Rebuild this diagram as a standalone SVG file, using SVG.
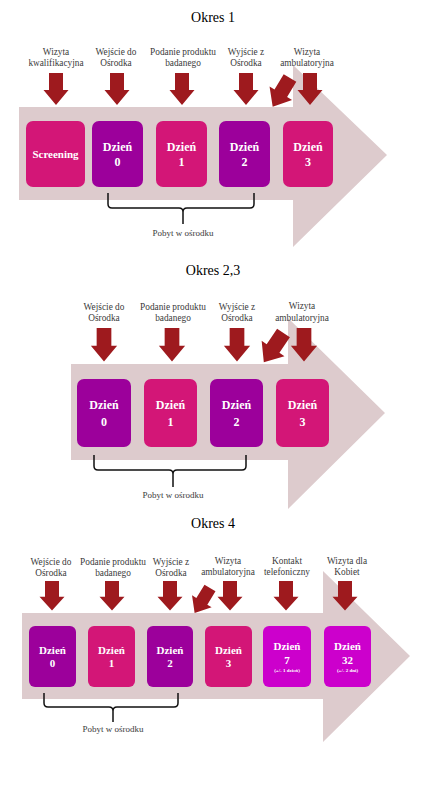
<svg xmlns="http://www.w3.org/2000/svg" width="436" height="800" viewBox="0 0 436 800">
<style>
.title{font-family:"Liberation Serif",serif;font-size:14px;fill:#000;text-anchor:middle}
.lbl{font-family:"Liberation Serif",serif;font-size:9.3px;fill:#3a3a3a;text-anchor:middle}
.stay{font-family:"Liberation Serif",serif;font-size:9px;fill:#3a3a3a;text-anchor:middle}
.bt{font-family:"Liberation Serif",serif;font-weight:bold;font-size:12px;fill:#fff;text-anchor:middle}
.bt2{font-family:"Liberation Serif",serif;font-weight:bold;font-size:11px;fill:#fff;text-anchor:middle}
.sm{font-family:"Liberation Serif",serif;font-weight:bold;font-size:5px;fill:#fff;text-anchor:middle}
.big{fill:#ddcbcd}
.pink{fill:#d31677}
.purple{fill:#9c009b}
.mag{fill:#cc00cc}
.red{fill:#9e1a1e}
.brace{fill:none;stroke:#111;stroke-width:1.5}
</style>
<defs>
<path id="dn" d="M-7,0 H7 V17 H12.5 L0,32 L-12.5,17 H-7 Z"/>
</defs>
<rect width="436" height="800" fill="#fff"/>

<!-- Section 1 -->
<text class="title" x="213" y="22">Okres 1</text>
<polygon id="bigarrow1" class="big" points="19,107 293,107 293,65 387,155 293,247 293,200 19,200"/>
<g id="lbl1">
<text class="lbl" x="56" y="55">Wizyta</text><text class="lbl" x="56" y="66">kwalifikacyjna</text>
<text class="lbl" x="116" y="55">Wejście do</text><text class="lbl" x="116" y="66">Ośrodka</text>
<text class="lbl" x="183" y="55">Podanie produktu</text><text class="lbl" x="183" y="66">badanego</text>
<text class="lbl" x="246" y="55">Wyjście z</text><text class="lbl" x="246" y="66">Ośrodka</text>
<text class="lbl" x="307" y="55">Wizyta</text><text class="lbl" x="307" y="66">ambulatoryjna</text>
</g>
<g id="s1-screening"><rect class="pink" x="26" y="121" width="59" height="66" rx="7"/><text class="bt2" x="55.5" y="158">Screening</text></g>
<g id="s1-d0"><rect class="purple" x="92" y="121" width="51" height="66" rx="7"/><text class="bt" x="117.5" y="151">Dzień</text><text class="bt" x="117.5" y="166">0</text></g>
<g id="s1-d1"><rect class="pink" x="156" y="121" width="51" height="66" rx="7"/><text class="bt" x="181.5" y="151">Dzień</text><text class="bt" x="181.5" y="166">1</text></g>
<g id="s1-d2"><rect class="purple" x="219" y="121" width="51" height="66" rx="7"/><text class="bt" x="244.5" y="151">Dzień</text><text class="bt" x="244.5" y="166">2</text></g>
<g id="s1-d3"><rect class="pink" x="283" y="121" width="50" height="66" rx="7"/><text class="bt" x="308" y="151">Dzień</text><text class="bt" x="308" y="166">3</text></g>
<text class="stay" x="183" y="236">Pobyt w ośrodku</text>

<!-- Section 2 -->
<text class="title" x="213" y="275">Okres 2,3</text>
<polygon id="bigarrow2" class="big" points="71,364 288,364 288,318 385,413 288,509 288,460 71,460"/>
<g id="lbl2">
<text class="lbl" x="104" y="310">Wejście do</text><text class="lbl" x="104" y="321">Ośrodka</text>
<text class="lbl" x="173" y="310">Podanie produktu</text><text class="lbl" x="173" y="321">badanego</text>
<text class="lbl" x="237" y="310">Wyjście z</text><text class="lbl" x="237" y="321">Ośrodka</text>
<text class="lbl" x="302" y="309">Wizyta</text><text class="lbl" x="302" y="321">ambulatoryjna</text>
</g>
<g id="s2-d0"><rect class="purple" x="77" y="379" width="54" height="68" rx="7"/><text class="bt" x="104" y="409">Dzień</text><text class="bt" x="104" y="426">0</text></g>
<g id="s2-d1"><rect class="pink" x="144" y="379" width="53" height="68" rx="7"/><text class="bt" x="170.5" y="409">Dzień</text><text class="bt" x="170.5" y="426">1</text></g>
<g id="s2-d2"><rect class="purple" x="210" y="379" width="53" height="68" rx="7"/><text class="bt" x="236.5" y="409">Dzień</text><text class="bt" x="236.5" y="426">2</text></g>
<g id="s2-d3"><rect class="pink" x="276" y="379" width="53" height="68" rx="7"/><text class="bt" x="302.5" y="409">Dzień</text><text class="bt" x="302.5" y="426">3</text></g>
<text class="stay" x="173" y="498">Pobyt w ośrodku</text>

<!-- Section 3 -->
<text class="title" x="213" y="528">Okres 4</text>
<polygon id="bigarrow3" class="big" points="22,613 323,613 323,571 410,656 323,742 323,699 22,699"/>
<g id="lbl3">
<text class="lbl" x="51" y="565">Wejście do</text><text class="lbl" x="51" y="576">Ośrodka</text>
<text class="lbl" x="113" y="565">Podanie produktu</text><text class="lbl" x="113" y="576">badanego</text>
<text class="lbl" x="171" y="565">Wyjście z</text><text class="lbl" x="171" y="576">Ośrodka</text>
<text class="lbl" x="228" y="564">Wizyta</text><text class="lbl" x="228" y="575">ambulatoryjna</text>
<text class="lbl" x="287" y="564">Kontakt</text><text class="lbl" x="287" y="575">telefoniczny</text>
<text class="lbl" x="347" y="564">Wizyta dla</text><text class="lbl" x="347" y="575">Kobiet</text>
</g>
<g id="s3-d0"><rect class="purple" x="29" y="626" width="47" height="61" rx="6"/><text class="bt2" x="52.5" y="654">Dzień</text><text class="bt2" x="52.5" y="667">0</text></g>
<g id="s3-d1"><rect class="pink" x="88" y="626" width="47" height="61" rx="6"/><text class="bt2" x="111.5" y="654">Dzień</text><text class="bt2" x="111.5" y="667">1</text></g>
<g id="s3-d2"><rect class="purple" x="147" y="626" width="46" height="61" rx="6"/><text class="bt2" x="170" y="654">Dzień</text><text class="bt2" x="170" y="667">2</text></g>
<g id="s3-d3"><rect class="pink" x="205" y="626" width="47" height="61" rx="6"/><text class="bt2" x="228.5" y="654">Dzień</text><text class="bt2" x="228.5" y="667">3</text></g>
<g id="s3-d7"><rect class="mag" x="263" y="626" width="48" height="61" rx="6"/><text class="bt2" x="287" y="650">Dzień</text><text class="bt2" x="287" y="664">7</text><text class="sm" x="287" y="672">(+/- 1 dzień)</text></g>
<g id="s3-d32"><rect class="mag" x="324" y="626" width="47" height="61" rx="6"/><text class="bt2" x="347.5" y="650">Dzień</text><text class="bt2" x="347.5" y="664">32</text><text class="sm" x="347.5" y="672">(+/- 2 dni)</text></g>
<text class="stay" x="113" y="732">Pobyt w ośrodku</text>

<g id="connectors">
<g class="red">
<use href="#dn" transform="translate(56,73)"/>
<use href="#dn" transform="translate(117,73)"/>
<use href="#dn" transform="translate(182,73)"/>
<use href="#dn" transform="translate(246,73)"/>
<use href="#dn" transform="translate(310,73)"/>
<use href="#dn" transform="translate(290,78) rotate(31) scale(1.05)"/>
<use href="#dn" transform="translate(104,328) scale(1.05)"/>
<use href="#dn" transform="translate(172,328) scale(1.05)"/>
<use href="#dn" transform="translate(237,328) scale(1.05)"/>
<use href="#dn" transform="translate(304,328) scale(1.05)"/>
<use href="#dn" transform="translate(283.5,333) rotate(34) scale(1.1)"/>
<use href="#dn" transform="translate(52,581) scale(1,0.92)"/>
<use href="#dn" transform="translate(112,581) scale(1,0.92)"/>
<use href="#dn" transform="translate(170,581) scale(1,0.92)"/>
<use href="#dn" transform="translate(230,581) scale(1,0.92)"/>
<use href="#dn" transform="translate(286,581) scale(1,0.92)"/>
<use href="#dn" transform="translate(345,581) scale(1,0.92)"/>
<use href="#dn" transform="translate(210,588) rotate(31.5) scale(0.92)"/>
</g>
<path class="brace" d="M108,193 V204 Q108,208 112,208 H179 Q183,208 183,212 V224 M254,193 V204 Q254,208 250,208 H187 Q183,208 183,212"/>
<path class="brace" d="M94,455 V466 Q94,470 98,470 H169 Q173,470 173,474 V487 M246,455 V466 Q246,470 242,470 H177 Q173,470 173,474"/>
<path class="brace" d="M44,693 V703 Q44,707 48,707 H109 Q113,707 113,711 V722 M178,693 V703 Q178,707 174,707 H117 Q113,707 113,711"/>
</g>
</svg>
